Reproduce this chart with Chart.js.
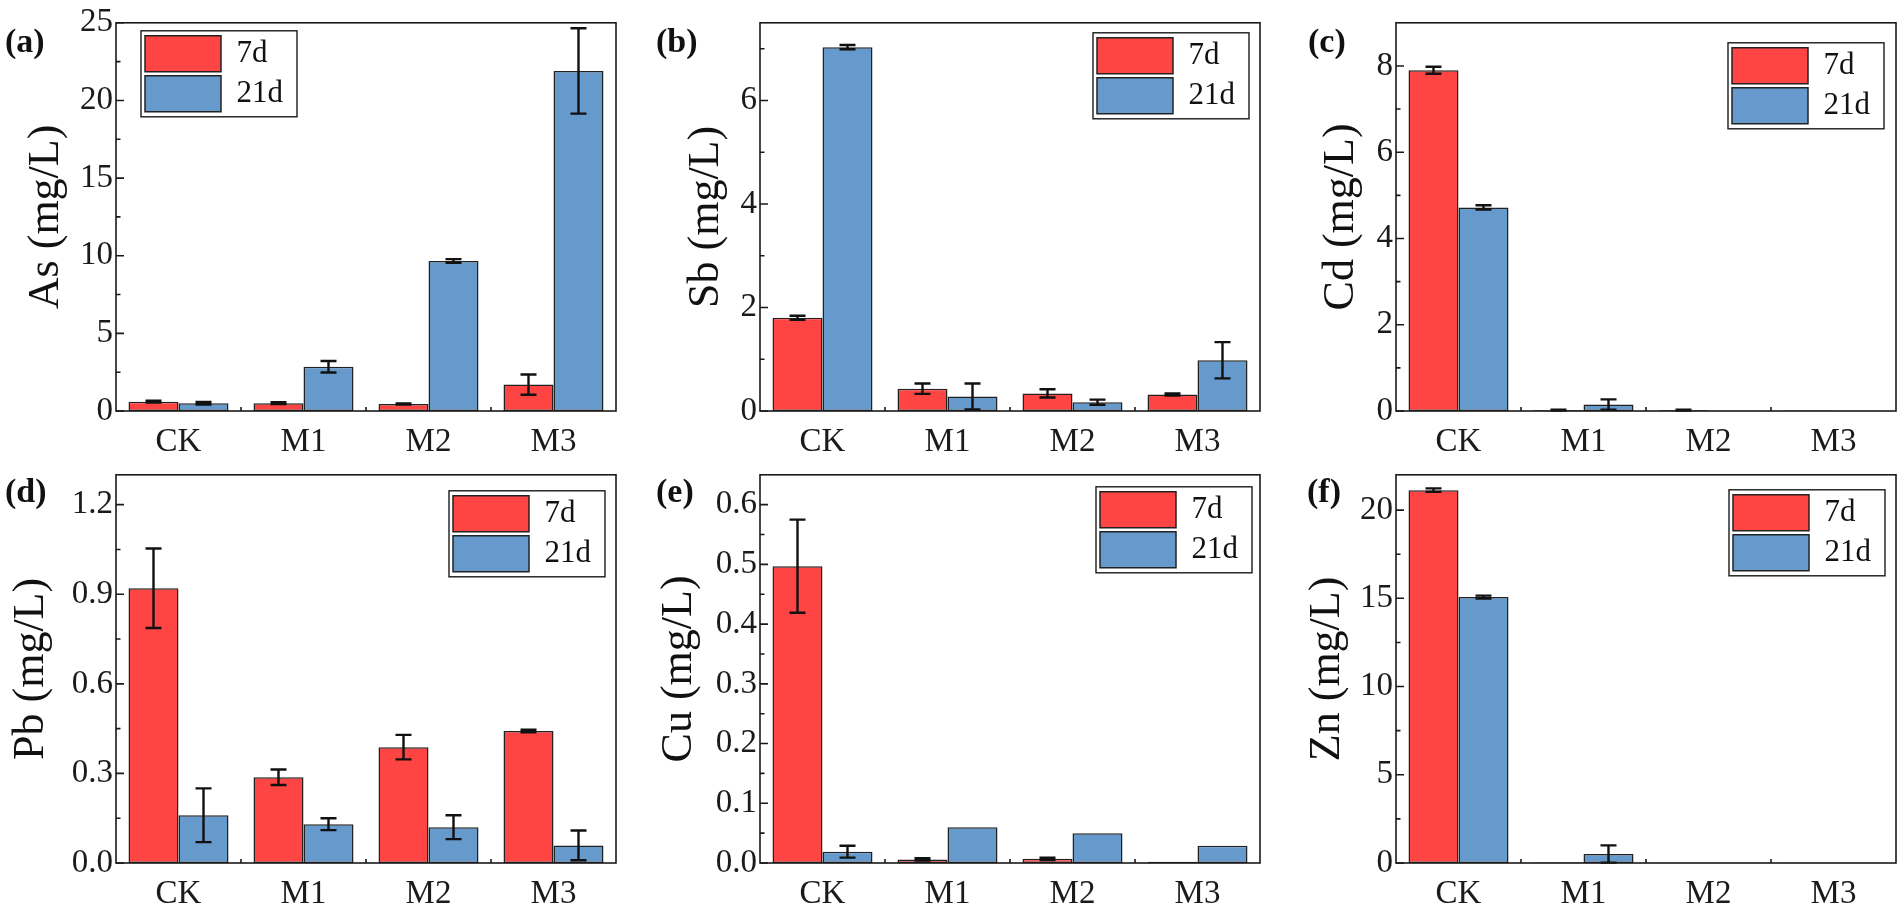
<!DOCTYPE html>
<html>
<head>
<meta charset="utf-8">
<script src="https://cdn.jsdelivr.net/npm/chart.js@4.4.1/dist/chart.umd.min.js"></script>
<style>
html, body { margin: 0; padding: 0; background: #fff; overflow: hidden; }
#fig { position: relative; width: 1902px; height: 904px; }
#fig canvas { position: absolute; }
.tag { position: absolute; font: bold 34px "Liberation Serif", "Times New Roman", serif; line-height: 1; color: #111; }
</style>
</head>
<body>
<div id="fig"></div>
<script>
// groups and series
const groups = ['CK', 'M1', 'M2', 'M3'];
const seriesNames = ['7d', '21d'];
const barColors = ['#FF4444', '#6699CC'];

// values (mg/L), errors are +/- half lengths
const as7d = [0.6, 0.5, 0.45, 1.7];
const as7dErr = [0.06, 0.06, 0.03, 0.65];
const as21d = [0.5, 2.85, 9.66, 21.9];
const as21dErr = [0.08, 0.37, 0.12, 2.75];

const sb7d = [1.8, 0.43, 0.34, 0.32];
const sb7dErr = [0.04, 0.1, 0.08, 0.02];
const sb21d = [7.03, 0.28, 0.17, 0.98];
const sb21dErr = [0.04, 0.25, 0.05, 0.35];

const cd7d = [7.9, 0.02, 0.02, 0.01];
const cd7dErr = [0.08, 0.01, 0.01, 0];
const cd21d = [4.72, 0.15, 0.005, 0.005];
const cd21dErr = [0.05, 0.12, 0, 0];

const pb7d = [0.92, 0.287, 0.388, 0.442];
const pb7dErr = [0.133, 0.026, 0.041, 0.004];
const pb21d = [0.16, 0.13, 0.12, 0.059];
const pb21dErr = [0.09, 0.02, 0.04, 0.05];

const cu7d = [0.497, 0.006, 0.007, 0.002];
const cu7dErr = [0.078, 0.002, 0.002, 0];
const cu21d = [0.019, 0.06, 0.05, 0.029];
const cu21dErr = [0.01, 0, 0, 0];

const zn7d = [21.13, 0.03, 0.02, 0.02];
const zn7dErr = [0.1, 0, 0, 0];
const zn21d = [15.07, 0.51, 0.01, 0.01];
const zn21dErr = [0.08, 0.49, 0, 0];

// tick values and labels
const asTicks = [0, 5, 10, 15, 20, 25];
const asTickText = ['0', '5', '10', '15', '20', '25'];
const sbTicks = [0, 2, 4, 6];
const sbTickText = ['0', '2', '4', '6'];
const cdTicks = [0, 2, 4, 6, 8];
const cdTickText = ['0', '2', '4', '6', '8'];
const pbTicks = [0, 0.3, 0.6, 0.9, 1.2];
const pbTickText = ['0.0', '0.3', '0.6', '0.9', '1.2'];
const cuTicks = [0, 0.1, 0.2, 0.3, 0.4, 0.5, 0.6];
const cuTickText = ['0.0', '0.1', '0.2', '0.3', '0.4', '0.5', '0.6'];
const znTicks = [0, 5, 10, 15, 20];
const znTickText = ['0', '5', '10', '15', '20'];

const FONT = '"Liberation Serif", "Times New Roman", serif';
Chart.defaults.font.family = FONT;

// layout of the 3 x 2 grid
const colStart = [0, 634, 1268];
const rowStart = [0, 452];
const plotLeft = [116, 760, 1396];
const plotTop = [19, 471];
const plotW = 500, plotH = 392, cellW = 634, cellH = 452;
const titleSize = 44;

const panels = [
  {tag: '(a)', yTitle: 'As (mg/L)', v7: as7d, e7: as7dErr, v21: as21d, e21: as21dErr, max: 25, ticks: asTicks, text: asTickText, c: 0, r: 0, titleX: 46, side: 'left', dx: 25, dy: 8, tagXY: [5, 24]},
  {tag: '(b)', yTitle: 'Sb (mg/L)', v7: sb7d, e7: sb7dErr, v21: sb21d, e21: sb21dErr, max: 7.5, ticks: sbTicks, text: sbTickText, c: 1, r: 0, titleX: 706, side: 'right', dx: 11, dy: 10, tagXY: [656, 24]},
  {tag: '(c)', yTitle: 'Cd (mg/L)', v7: cd7d, e7: cd7dErr, v21: cd21d, e21: cd21dErr, max: 9, ticks: cdTicks, text: cdTickText, c: 2, r: 0, titleX: 1341, side: 'right', dx: 12, dy: 20, tagXY: [1308, 24]},
  {tag: '(d)', yTitle: 'Pb (mg/L)', v7: pb7d, e7: pb7dErr, v21: pb21d, e21: pb21dErr, max: 1.3, ticks: pbTicks, text: pbTickText, c: 0, r: 1, titleX: 31, side: 'right', dx: 11, dy: 16, tagXY: [5, 474]},
  {tag: '(e)', yTitle: 'Cu (mg/L)', v7: cu7d, e7: cu7dErr, v21: cu21d, e21: cu21dErr, max: 0.65, ticks: cuTicks, text: cuTickText, c: 1, r: 1, titleX: 679, side: 'right', dx: 8, dy: 12, tagXY: [656, 474]},
  {tag: '(f)', yTitle: 'Zn (mg/L)', v7: zn7d, e7: zn7dErr, v21: zn21d, e21: zn21dErr, max: 22, ticks: znTicks, text: znTickText, c: 2, r: 1, titleX: 1327, side: 'right', dx: 11, dy: 15, tagXY: [1307, 474]}
];

// error bars drawn with the y scale
const errorBars = {
  id: 'errorBars',
  afterDatasetsDraw(chart) {
    const ctx = chart.ctx;
    const ys = chart.scales.y;
    ctx.save();
    ctx.strokeStyle = '#111';
    ctx.lineWidth = 2.4;
    chart.data.datasets.forEach((ds, i) => {
      chart.getDatasetMeta(i).data.forEach((bar, j) => {
        const e = ds.errors[j];
        if (!e) return;
        const hi = ys.getPixelForValue(ds.data[j] + e);
        const lo = ys.getPixelForValue(Math.max(ds.data[j] - e, 0));
        ctx.beginPath();
        ctx.moveTo(bar.x, hi); ctx.lineTo(bar.x, lo);
        ctx.moveTo(bar.x - 8, hi); ctx.lineTo(bar.x + 8, hi);
        ctx.moveTo(bar.x - 8, lo); ctx.lineTo(bar.x + 8, lo);
        ctx.stroke();
      });
    });
    ctx.restore();
  }
};

// box frame, inward ticks and legend placement/frame
const frameTicks = {
  id: 'frameTicks',
  afterLayout(chart, args, o) {
    const lg = chart.legend, ca = chart.chartArea;
    const fw = lg.width + 4;
    const fl = o.side === 'left' ? ca.left + o.dx : ca.right - o.dx - fw;
    const ft = ca.top + o.dy;
    lg.left = fl; lg.right = fl + lg.width;
    lg.top = ft + 1; lg.bottom = lg.top + 200;
    chart.$legFrame = {x: fl, y: ft, w: fw, h: 86};
  },
  afterDraw(chart) {
    const ctx = chart.ctx, ca = chart.chartArea;
    const ys = chart.scales.y, xs = chart.scales.x;
    ctx.save();
    ctx.strokeStyle = '#1a1a1a';
    ctx.lineWidth = 1.6;
    ctx.strokeRect(ca.left, ca.top, ca.right - ca.left, ca.bottom - ca.top);
    ctx.beginPath();
    const tv = ys.ticks.map(t => t.value);
    tv.forEach(v => {
      const p = ys.getPixelForValue(v);
      ctx.moveTo(ca.left, p); ctx.lineTo(ca.left + 8, p);
    });
    const step = tv[1] - tv[0];
    for (let k = 0; k < tv.length; k++) {
      const m = tv[k] + step / 2;
      if (m >= ys.max - 1e-9) break;
      const p = ys.getPixelForValue(m);
      ctx.moveTo(ca.left, p); ctx.lineTo(ca.left + 4.5, p);
    }
    for (let k = 1; k < xs.ticks.length; k++) {
      const p = (xs.getPixelForTick(k - 1) + xs.getPixelForTick(k)) / 2;
      ctx.moveTo(p, ca.bottom); ctx.lineTo(p, ca.bottom - 4);
    }
    ctx.stroke();
    const f = chart.$legFrame;
    ctx.lineWidth = 1.4;
    ctx.strokeRect(f.x, f.y, f.w, f.h);
    ctx.restore();
  }
};

const fig = document.getElementById('fig');

panels.forEach(p => {
  const left = colStart[p.c], top = rowStart[p.r];
  const cv = document.createElement('canvas');
  cv.width = cellW; cv.height = cellH;
  cv.style.left = left + 'px'; cv.style.top = top + 'px';
  fig.appendChild(cv);

  const tag = document.createElement('div');
  tag.className = 'tag';
  tag.textContent = p.tag;
  tag.style.left = p.tagXY[0] + 'px'; tag.style.top = p.tagXY[1] + 'px';
  fig.appendChild(tag);

  const yW = plotLeft[p.c] - left;
  const padTop = plotTop[p.r] - top;
  const padRight = left + cellW - (plotLeft[p.c] + plotW);
  const xH = cellH - padTop - plotH;

  new Chart(cv, {
    type: 'bar',
    data: {
      labels: groups,
      datasets: [
        {label: seriesNames[0], data: p.v7, errors: p.e7, backgroundColor: barColors[0]},
        {label: seriesNames[1], data: p.v21, errors: p.e21, backgroundColor: barColors[1]}
      ]
    },
    options: {
      responsive: false,
      animation: false,
      events: [],
      layout: {padding: {left: 0, top: padTop, right: padRight, bottom: 0}},
      datasets: {
        bar: {barPercentage: 1, categoryPercentage: 0.8, borderColor: '#222', borderWidth: 1.5, borderSkipped: false}
      },
      scales: {
        x: {
          grid: {display: false},
          border: {display: false},
          ticks: {font: {size: 33}, color: '#1a1a1a', padding: 4},
          afterFit: s => { s.height = xH; }
        },
        y: {
          min: 0, max: p.max,
          grid: {display: false, drawTicks: false},
          border: {display: false},
          afterBuildTicks: s => { s.ticks = p.ticks.map(v => ({value: v})); },
          ticks: {
            autoSkip: false, font: {size: 33}, color: '#1a1a1a', padding: 3,
            callback: v => p.text[p.ticks.indexOf(v)]
          },
          title: {display: true, text: p.yTitle, font: {size: titleSize}, color: '#111', padding: {top: p.titleX - left - titleSize * 0.6, bottom: 0}},
          afterFit: s => { s.width = yW; }
        }
      },
      plugins: {
        tooltip: {enabled: false},
        legend: {
          position: 'chartArea', align: 'start',
          labels: {boxWidth: 76, boxHeight: 36, padding: 4, font: {size: 31}, color: '#111'}
        },
        frameTicks: {side: p.side, dx: p.dx, dy: p.dy}
      }
    },
    plugins: [errorBars, frameTicks]
  });
});
</script>
</body>
</html>
